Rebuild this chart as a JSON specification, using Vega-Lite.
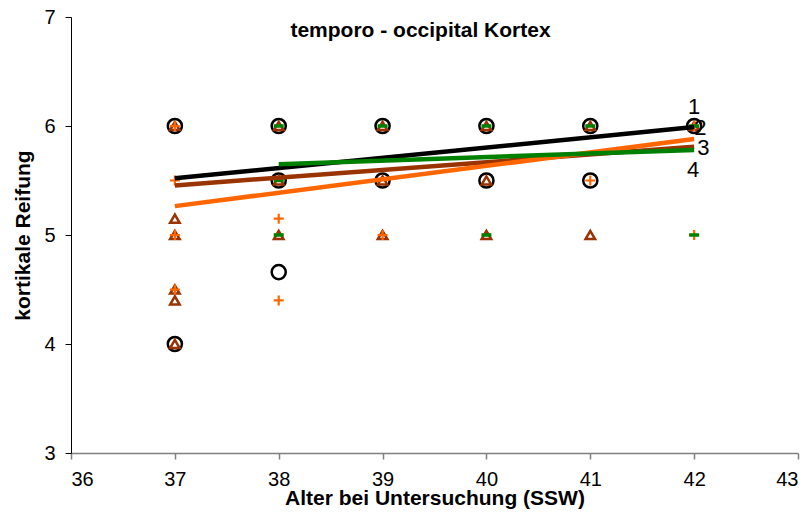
{
  "$schema": "https://vega.github.io/schema/vega-lite/v6.json",
  "width": 727,
  "height": 436,
  "autosize": {"type": "none"},
  "padding": {"left": 71, "top": 17, "right": 14, "bottom": 64},
  "background": "white",
  "title": {
    "text": "temporo - occipital Kortex",
    "font": "Liberation Sans",
    "fontSize": 21,
    "fontWeight": "bold",
    "color": "black",
    "offset": -34,
    "dx": -14
  },
  "config": {
    "view": {"stroke": null},
    "font": "Liberation Sans",
    "axis": {
      "grid": false,
      "labelFont": "Liberation Sans",
      "labelFontSize": 20,
      "labelColor": "black",
      "titleFont": "Liberation Sans",
      "titleFontSize": 21,
      "titleFontWeight": "bold",
      "titleColor": "black",
      "tickSize": 6
    }
  },
  "datasets": {
    "points": [
      {"s": "1", "x": 37, "y": 6}, {"s": "1", "x": 37, "y": 4},
      {"s": "1", "x": 38, "y": 6}, {"s": "1", "x": 38, "y": 5.5}, {"s": "1", "x": 38, "y": 4.66},
      {"s": "1", "x": 39, "y": 6}, {"s": "1", "x": 39, "y": 5.5},
      {"s": "1", "x": 40, "y": 6}, {"s": "1", "x": 40, "y": 5.5},
      {"s": "1", "x": 41, "y": 6}, {"s": "1", "x": 41, "y": 5.5},
      {"s": "1", "x": 42, "y": 6},
      {"s": "2", "x": 37, "y": 6}, {"s": "2", "x": 37, "y": 5.15}, {"s": "2", "x": 37, "y": 5},
      {"s": "2", "x": 37, "y": 4.5}, {"s": "2", "x": 37, "y": 4.4}, {"s": "2", "x": 37, "y": 4},
      {"s": "2", "x": 38, "y": 6}, {"s": "2", "x": 38, "y": 5.5}, {"s": "2", "x": 38, "y": 5},
      {"s": "2", "x": 39, "y": 6}, {"s": "2", "x": 39, "y": 5.5}, {"s": "2", "x": 39, "y": 5},
      {"s": "2", "x": 40, "y": 6}, {"s": "2", "x": 40, "y": 5.5}, {"s": "2", "x": 40, "y": 5},
      {"s": "2", "x": 41, "y": 6}, {"s": "2", "x": 41, "y": 5},
      {"s": "2", "x": 42, "y": 6},
      {"s": "3", "x": 37, "y": 6}, {"s": "3", "x": 37, "y": 5.5}, {"s": "3", "x": 37, "y": 5}, {"s": "3", "x": 37, "y": 4.5},
      {"s": "3", "x": 38, "y": 5.15}, {"s": "3", "x": 38, "y": 4.4},
      {"s": "3", "x": 39, "y": 5},
      {"s": "3", "x": 41, "y": 5.5},
      {"s": "3", "x": 42, "y": 6}, {"s": "3", "x": 42, "y": 5},
      {"s": "4", "x": 38, "y": 6}, {"s": "4", "x": 38, "y": 5.5}, {"s": "4", "x": 38, "y": 5},
      {"s": "4", "x": 39, "y": 6},
      {"s": "4", "x": 40, "y": 6}, {"s": "4", "x": 40, "y": 5},
      {"s": "4", "x": 41, "y": 6},
      {"s": "4", "x": 42, "y": 6}, {"s": "4", "x": 42, "y": 5}
    ],
    "lines": [
      {"s": "1", "x": 37, "y": 5.52}, {"s": "1", "x": 42, "y": 5.99},
      {"s": "2", "x": 37, "y": 5.455}, {"s": "2", "x": 42, "y": 5.81},
      {"s": "3", "x": 37, "y": 5.265}, {"s": "3", "x": 42, "y": 5.88},
      {"s": "4", "x": 38, "y": 5.65}, {"s": "4", "x": 42, "y": 5.78}
    ],
    "labels": [
      {"t": "1", "x": 42.0, "y": 6.17},
      {"t": "2", "x": 42.06, "y": 5.98},
      {"t": "3", "x": 42.09, "y": 5.795},
      {"t": "4", "x": 41.99, "y": 5.593}
    ]
  },
  "encoding": {
    "x": {
      "field": "x", "type": "quantitative",
      "scale": {"domain": [36, 43], "nice": false, "zero": false},
      "axis": {"title": "Alter bei Untersuchung (SSW)", "values": [36, 37, 38, 39, 40, 41, 42, 43], "domainColor": "#808080", "domainWidth": 1.5, "tickColor": "#808080", "tickWidth": 1.5, "titlePadding": -2, "labelPadding": 10}
    },
    "y": {
      "field": "y", "type": "quantitative",
      "scale": {"domain": [3, 7], "nice": false, "zero": false},
      "axis": {"title": "kortikale Reifung", "values": [3, 4, 5, 6, 7], "domainColor": "black", "tickColor": "black", "titlePadding": 10, "labelPadding": 10}
    }
  },
  "layer": [
    {
      "data": {"name": "points"},
      "transform": [{"filter": "datum.s === '1'"}],
      "mark": {"type": "point", "shape": "circle", "filled": false, "stroke": "black", "strokeWidth": 2.5, "size": 200, "opacity": 1}
    },
    {
      "data": {"name": "points"},
      "transform": [{"filter": "datum.s === '2'"}],
      "mark": {"type": "point", "shape": "triangle-up", "filled": false, "stroke": "#993300", "strokeWidth": 2.5, "size": 90, "opacity": 1}
    },
    {
      "data": {"name": "points"},
      "transform": [{"filter": "datum.s === '3'"}],
      "mark": {"type": "point", "shape": "M-1,0H1M0,-1V1", "filled": false, "stroke": "#FF6600", "strokeWidth": 2.2, "size": 100, "opacity": 1}
    },
    {
      "data": {"name": "points"},
      "transform": [{"filter": "datum.s === '4'"}],
      "mark": {"type": "point", "shape": "M-1,0H1", "filled": false, "stroke": "#008000", "strokeWidth": 3.5, "size": 100, "opacity": 1}
    },
    {
      "data": {"name": "lines"},
      "transform": [{"filter": "datum.s === '1'"}],
      "mark": {"type": "line", "color": "black", "strokeWidth": 4.5, "strokeCap": "butt"}
    },
    {
      "data": {"name": "lines"},
      "transform": [{"filter": "datum.s === '2'"}],
      "mark": {"type": "line", "color": "#993300", "strokeWidth": 4.5, "strokeCap": "butt"}
    },
    {
      "data": {"name": "lines"},
      "transform": [{"filter": "datum.s === '3'"}],
      "mark": {"type": "line", "color": "#FF6600", "strokeWidth": 4.5, "strokeCap": "butt"}
    },
    {
      "data": {"name": "lines"},
      "transform": [{"filter": "datum.s === '4'"}],
      "mark": {"type": "line", "color": "#008000", "strokeWidth": 4.5, "strokeCap": "butt"}
    },
    {
      "data": {"name": "labels"},
      "mark": {"type": "text", "font": "Liberation Sans", "fontSize": 22, "color": "black", "align": "center", "baseline": "middle"},
      "encoding": {"text": {"field": "t"}}
    }
  ]
}
